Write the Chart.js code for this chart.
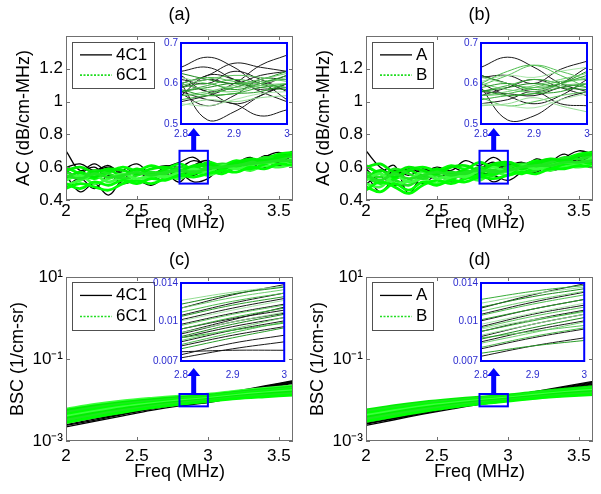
<!DOCTYPE html>
<html>
<head>
<meta charset="utf-8">
<script src="https://cdn.jsdelivr.net/npm/chart.js@4.4.1/dist/chart.umd.min.js"></script>
<style>
  html, body { margin: 0; padding: 0; background: #fff; }
  #fig { position: relative; width: 601px; height: 494px; overflow: hidden; background: #fff; }
  #fig canvas { position: absolute; }
</style>
</head>
<body>
<div id="fig"></div>
<script>
// --- eixos / rótulos ---
const panelTitles = ["(a)", "(b)", "(c)", "(d)"];
const legendLabelsAC = ["4C1", "6C1"];
const legendLabelsBD = ["A", "B"];
const freqTicks = [2, 2.5, 3, 3.5];
const acTicks = [0.4, 0.6, 0.8, 1, 1.2];
const bscTicks = [0.001, 0.1, 10];
const insetFreqTicks = [2.8, 2.9, 3];
const insetAcTicks = [0.5, 0.6, 0.7];
const insetBscTicks = [0.007, 0.01, 0.014];
const zoomFreq = [2.8, 3.0];
const zoomAc = [0.5, 0.7];
const zoomBsc = [0.007, 0.014];

// --- AC (painéis a, b) ---
const acFreq = [2.0, 2.1, 2.2, 2.3, 2.4, 2.5, 2.6, 2.7, 2.8, 2.9, 3.0, 3.1, 3.2, 3.3, 3.4, 3.5, 3.6];

const acBlackA = [
  [0.70, 0.58, 0.62, 0.57, 0.60, 0.56, 0.59, 0.61, 0.60, 0.64, 0.61, 0.60, 0.64, 0.62, 0.67, 0.66, 0.70],
  [0.55, 0.45, 0.50, 0.43, 0.52, 0.50, 0.54, 0.52, 0.58, 0.55, 0.60, 0.57, 0.62, 0.60, 0.64, 0.63, 0.67],
  [0.60, 0.62, 0.58, 0.61, 0.55, 0.57, 0.53, 0.56, 0.51, 0.60, 0.58, 0.62, 0.60, 0.65, 0.63, 0.67, 0.69],
  [0.52, 0.56, 0.60, 0.53, 0.58, 0.62, 0.56, 0.60, 0.63, 0.66, 0.59, 0.56, 0.62, 0.66, 0.60, 0.64, 0.68],
  [0.48, 0.53, 0.47, 0.55, 0.50, 0.52, 0.49, 0.54, 0.56, 0.51, 0.53, 0.60, 0.57, 0.62, 0.64, 0.61, 0.65],
  [0.58, 0.54, 0.57, 0.60, 0.56, 0.51, 0.55, 0.58, 0.54, 0.61, 0.64, 0.58, 0.63, 0.59, 0.66, 0.69, 0.66],
];
const acGreenA = [
  [0.50, 0.47, 0.51, 0.49, 0.52, 0.50, 0.53, 0.52, 0.55, 0.54, 0.56, 0.58, 0.57, 0.60, 0.59, 0.62, 0.61],
  [0.55, 0.53, 0.56, 0.54, 0.55, 0.57, 0.55, 0.57, 0.58, 0.57, 0.59, 0.60, 0.61, 0.62, 0.63, 0.64, 0.64],
  [0.58, 0.60, 0.57, 0.59, 0.58, 0.56, 0.59, 0.60, 0.58, 0.61, 0.62, 0.60, 0.63, 0.65, 0.64, 0.66, 0.68],
  [0.52, 0.55, 0.50, 0.53, 0.56, 0.53, 0.55, 0.54, 0.57, 0.59, 0.57, 0.61, 0.59, 0.61, 0.63, 0.62, 0.65],
  [0.47, 0.50, 0.48, 0.46, 0.50, 0.52, 0.50, 0.53, 0.55, 0.56, 0.58, 0.56, 0.60, 0.59, 0.62, 0.64, 0.63],
  [0.57, 0.54, 0.58, 0.56, 0.53, 0.55, 0.57, 0.56, 0.60, 0.58, 0.60, 0.62, 0.61, 0.63, 0.66, 0.65, 0.67],
  [0.53, 0.57, 0.54, 0.58, 0.55, 0.59, 0.56, 0.58, 0.56, 0.60, 0.61, 0.59, 0.62, 0.64, 0.62, 0.67, 0.66],
  [0.49, 0.52, 0.55, 0.51, 0.54, 0.51, 0.54, 0.55, 0.53, 0.57, 0.55, 0.58, 0.60, 0.58, 0.61, 0.60, 0.62],
  [0.60, 0.56, 0.53, 0.57, 0.60, 0.58, 0.61, 0.59, 0.62, 0.59, 0.63, 0.61, 0.64, 0.62, 0.65, 0.68, 0.69],
];
const acBlackB = [
  [0.70, 0.60, 0.56, 0.59, 0.57, 0.60, 0.58, 0.64, 0.61, 0.66, 0.60, 0.58, 0.65, 0.62, 0.66, 0.70, 0.68],
  [0.56, 0.45, 0.52, 0.46, 0.51, 0.49, 0.55, 0.53, 0.57, 0.51, 0.56, 0.60, 0.58, 0.62, 0.61, 0.65, 0.66],
  [0.60, 0.57, 0.61, 0.44, 0.55, 0.53, 0.57, 0.55, 0.59, 0.63, 0.58, 0.61, 0.64, 0.60, 0.64, 0.63, 0.68],
  [0.52, 0.58, 0.53, 0.57, 0.60, 0.56, 0.52, 0.58, 0.55, 0.58, 0.62, 0.59, 0.57, 0.63, 0.68, 0.62, 0.66],
  [0.50, 0.54, 0.49, 0.52, 0.50, 0.55, 0.51, 0.53, 0.56, 0.55, 0.52, 0.57, 0.60, 0.58, 0.60, 0.64, 0.63],
  [0.59, 0.52, 0.58, 0.55, 0.59, 0.57, 0.60, 0.57, 0.60, 0.60, 0.61, 0.63, 0.60, 0.65, 0.62, 0.66, 0.70],
];
const acGreenB = [
  [0.48, 0.45, 0.50, 0.46, 0.51, 0.49, 0.52, 0.51, 0.54, 0.53, 0.55, 0.57, 0.56, 0.59, 0.59, 0.61, 0.60],
  [0.55, 0.52, 0.56, 0.53, 0.55, 0.57, 0.55, 0.57, 0.58, 0.57, 0.58, 0.60, 0.61, 0.61, 0.63, 0.63, 0.64],
  [0.60, 0.62, 0.57, 0.60, 0.58, 0.56, 0.60, 0.61, 0.58, 0.62, 0.63, 0.60, 0.63, 0.65, 0.64, 0.67, 0.68],
  [0.52, 0.56, 0.50, 0.52, 0.57, 0.53, 0.55, 0.54, 0.58, 0.60, 0.57, 0.61, 0.59, 0.61, 0.63, 0.62, 0.66],
  [0.46, 0.51, 0.48, 0.44, 0.49, 0.52, 0.50, 0.53, 0.55, 0.56, 0.58, 0.56, 0.60, 0.59, 0.62, 0.63, 0.62],
  [0.57, 0.54, 0.59, 0.56, 0.53, 0.56, 0.57, 0.56, 0.60, 0.58, 0.60, 0.62, 0.61, 0.63, 0.66, 0.65, 0.67],
  [0.53, 0.58, 0.54, 0.58, 0.55, 0.59, 0.56, 0.58, 0.56, 0.61, 0.61, 0.59, 0.62, 0.64, 0.62, 0.67, 0.66],
  [0.50, 0.48, 0.55, 0.51, 0.53, 0.50, 0.54, 0.55, 0.52, 0.57, 0.55, 0.58, 0.60, 0.58, 0.61, 0.60, 0.62],
  [0.61, 0.56, 0.53, 0.58, 0.60, 0.58, 0.61, 0.59, 0.63, 0.60, 0.63, 0.61, 0.64, 0.62, 0.65, 0.68, 0.69],
  [0.54, 0.50, 0.52, 0.49, 0.54, 0.55, 0.53, 0.56, 0.54, 0.55, 0.59, 0.57, 0.58, 0.61, 0.60, 0.63, 0.65],
];

// zoom 2.8-3.0 MHz (AC)
const insetAcFreq = [2.8, 2.85, 2.9, 2.95, 3.0];
const insetAcBlackA = [
  [0.64, 0.665, 0.64, 0.60, 0.62],
  [0.60, 0.51, 0.53, 0.57, 0.60],
  [0.58, 0.56, 0.55, 0.52, 0.535],
  [0.60, 0.62, 0.65, 0.64, 0.63],
  [0.62, 0.58, 0.60, 0.645, 0.67],
  [0.555, 0.57, 0.59, 0.60, 0.56],
  [0.57, 0.62, 0.61, 0.58, 0.555],
  [0.59, 0.61, 0.60, 0.62, 0.63],
  [0.60, 0.58, 0.55, 0.57, 0.60],
  [0.61, 0.60, 0.63, 0.61, 0.58],
  [0.63, 0.64, 0.61, 0.585, 0.59],
  [0.575, 0.545, 0.57, 0.61, 0.61],
];
const insetAcGreenA = [
  [0.59, 0.60, 0.585, 0.60, 0.62],
  [0.57, 0.575, 0.59, 0.605, 0.61],
  [0.60, 0.585, 0.58, 0.595, 0.60],
  [0.58, 0.59, 0.60, 0.59, 0.585],
  [0.615, 0.60, 0.59, 0.60, 0.615],
  [0.56, 0.57, 0.575, 0.59, 0.60],
  [0.595, 0.61, 0.62, 0.615, 0.605],
  [0.55, 0.545, 0.56, 0.575, 0.58],
  [0.585, 0.57, 0.575, 0.58, 0.60],
  [0.60, 0.615, 0.605, 0.595, 0.59],
  [0.57, 0.58, 0.595, 0.61, 0.625],
  [0.625, 0.61, 0.60, 0.61, 0.63],
  [0.545, 0.56, 0.555, 0.565, 0.57],
  [0.58, 0.595, 0.61, 0.60, 0.59],
];
const insetAcBlackB = [
  [0.64, 0.665, 0.64, 0.60, 0.58],
  [0.59, 0.51, 0.52, 0.56, 0.58],
  [0.60, 0.57, 0.55, 0.57, 0.61],
  [0.615, 0.62, 0.60, 0.635, 0.655],
  [0.58, 0.575, 0.57, 0.59, 0.60],
  [0.55, 0.56, 0.58, 0.55, 0.545],
  [0.62, 0.60, 0.58, 0.60, 0.64],
  [0.57, 0.59, 0.61, 0.59, 0.57],
];
const insetAcGreenB = [
  [0.59, 0.60, 0.585, 0.60, 0.62],
  [0.57, 0.575, 0.59, 0.605, 0.61],
  [0.60, 0.585, 0.58, 0.595, 0.60],
  [0.58, 0.59, 0.60, 0.59, 0.585],
  [0.615, 0.60, 0.59, 0.60, 0.615],
  [0.56, 0.57, 0.575, 0.59, 0.60],
  [0.595, 0.62, 0.645, 0.63, 0.61],
  [0.55, 0.545, 0.54, 0.56, 0.575],
  [0.585, 0.57, 0.575, 0.58, 0.60],
  [0.60, 0.63, 0.645, 0.62, 0.59],
  [0.57, 0.58, 0.595, 0.61, 0.625],
  [0.62, 0.60, 0.59, 0.60, 0.63],
  [0.545, 0.55, 0.565, 0.545, 0.53],
  [0.58, 0.595, 0.61, 0.60, 0.59],
  [0.565, 0.545, 0.555, 0.57, 0.58],
  [0.605, 0.62, 0.615, 0.63, 0.64],
];

// --- BSC (painéis c, d) ---
const bscFreq = [2.0, 2.2, 2.4, 2.6, 2.8, 3.0, 3.2, 3.4, 3.6];
const bscBlackC = [
  [0.0022, 0.0030, 0.0041, 0.0056, 0.0072, 0.0086, 0.0118, 0.0160, 0.0210],
  [0.0025, 0.0034, 0.0046, 0.0062, 0.0080, 0.0095, 0.0130, 0.0175, 0.0235],
  [0.0028, 0.0037, 0.0050, 0.0068, 0.0088, 0.0105, 0.0142, 0.0190, 0.0255],
  [0.0031, 0.0041, 0.0055, 0.0074, 0.0096, 0.0115, 0.0155, 0.0205, 0.0275],
  [0.0034, 0.0045, 0.0060, 0.0080, 0.0104, 0.0125, 0.0165, 0.0220, 0.0295],
  [0.0024, 0.0032, 0.0044, 0.0060, 0.0077, 0.0090, 0.0124, 0.0168, 0.0222],
  [0.0029, 0.0039, 0.0052, 0.0071, 0.0092, 0.0110, 0.0148, 0.0198, 0.0265],
  [0.0033, 0.0043, 0.0057, 0.0077, 0.0100, 0.0120, 0.0160, 0.0212, 0.0285],
];
const bscGreenC = [
  [0.0028, 0.0038, 0.0050, 0.0064, 0.0078, 0.0092, 0.0108, 0.0120, 0.0132],
  [0.0032, 0.0043, 0.0056, 0.0070, 0.0084, 0.0098, 0.0115, 0.0130, 0.0145],
  [0.0036, 0.0048, 0.0062, 0.0076, 0.0090, 0.0104, 0.0122, 0.0140, 0.0158],
  [0.0040, 0.0053, 0.0068, 0.0082, 0.0096, 0.0110, 0.0130, 0.0150, 0.0170],
  [0.0045, 0.0059, 0.0074, 0.0088, 0.0102, 0.0116, 0.0138, 0.0160, 0.0182],
  [0.0050, 0.0065, 0.0080, 0.0094, 0.0108, 0.0122, 0.0146, 0.0170, 0.0195],
  [0.0056, 0.0072, 0.0088, 0.0102, 0.0116, 0.0130, 0.0156, 0.0182, 0.0210],
  [0.0060, 0.0078, 0.0095, 0.0110, 0.0125, 0.0138, 0.0165, 0.0192, 0.0220],
  [0.0034, 0.0046, 0.0059, 0.0073, 0.0087, 0.0101, 0.0119, 0.0135, 0.0150],
  [0.0042, 0.0056, 0.0071, 0.0085, 0.0099, 0.0113, 0.0134, 0.0155, 0.0176],
];
const bscBlackD = [
  [0.0024, 0.0033, 0.0045, 0.0060, 0.0078, 0.0094, 0.0125, 0.0165, 0.0215],
  [0.0027, 0.0036, 0.0049, 0.0066, 0.0085, 0.0102, 0.0136, 0.0180, 0.0240],
  [0.0030, 0.0040, 0.0054, 0.0072, 0.0093, 0.0112, 0.0150, 0.0198, 0.0262],
  [0.0033, 0.0044, 0.0059, 0.0078, 0.0101, 0.0122, 0.0162, 0.0215, 0.0285],
  [0.0026, 0.0035, 0.0047, 0.0063, 0.0081, 0.0098, 0.0130, 0.0172, 0.0228],
  [0.0029, 0.0038, 0.0051, 0.0069, 0.0089, 0.0107, 0.0143, 0.0190, 0.0250],
  [0.0032, 0.0042, 0.0057, 0.0075, 0.0097, 0.0117, 0.0156, 0.0206, 0.0272],
];
const bscGreenD = [
  [0.0030, 0.0040, 0.0052, 0.0066, 0.0080, 0.0094, 0.0110, 0.0124, 0.0136],
  [0.0034, 0.0045, 0.0058, 0.0072, 0.0086, 0.0100, 0.0118, 0.0134, 0.0150],
  [0.0038, 0.0050, 0.0064, 0.0078, 0.0092, 0.0106, 0.0125, 0.0144, 0.0162],
  [0.0042, 0.0055, 0.0070, 0.0084, 0.0098, 0.0112, 0.0133, 0.0154, 0.0175],
  [0.0047, 0.0061, 0.0076, 0.0090, 0.0104, 0.0118, 0.0141, 0.0164, 0.0187],
  [0.0052, 0.0067, 0.0082, 0.0096, 0.0110, 0.0124, 0.0149, 0.0174, 0.0200],
  [0.0057, 0.0073, 0.0089, 0.0104, 0.0118, 0.0132, 0.0158, 0.0185, 0.0212],
  [0.0036, 0.0047, 0.0061, 0.0075, 0.0089, 0.0103, 0.0121, 0.0139, 0.0156],
  [0.0044, 0.0058, 0.0073, 0.0087, 0.0101, 0.0115, 0.0137, 0.0159, 0.0181],
  [0.0032, 0.0043, 0.0055, 0.0069, 0.0083, 0.0097, 0.0114, 0.0129, 0.0143],
];

// zoom 2.8-3.0 MHz (BSC)
const insetBscFreq = [2.8, 2.9, 3.0];
const insetBscBlackC = [
  [0.0072, 0.0078, 0.0083],
  [0.0074, 0.0082, 0.0088],
  [0.0076, 0.0077, 0.0077],
  [0.0080, 0.0088, 0.0095],
  [0.0083, 0.0092, 0.0100],
  [0.0086, 0.0095, 0.0103],
  [0.0089, 0.0099, 0.0107],
  [0.0093, 0.0102, 0.0110],
  [0.0097, 0.0107, 0.0116],
  [0.0101, 0.0112, 0.0122],
  [0.0105, 0.0117, 0.0128],
  [0.0112, 0.0126, 0.0138],
  [0.0090, 0.0101, 0.0113],
];
const insetBscGreenC = [
  [0.0078, 0.0086, 0.0094],
  [0.0081, 0.0090, 0.0099],
  [0.0084, 0.0093, 0.0103],
  [0.0087, 0.0097, 0.0106],
  [0.0090, 0.0099, 0.0108],
  [0.0093, 0.0103, 0.0112],
  [0.0096, 0.0106, 0.0115],
  [0.0100, 0.0110, 0.0120],
  [0.0104, 0.0115, 0.0124],
  [0.0108, 0.0119, 0.0128],
  [0.0112, 0.0123, 0.0132],
  [0.0116, 0.0127, 0.0135],
  [0.0120, 0.0129, 0.0136],
  [0.0086, 0.0092, 0.0098],
];
const insetBscBlackD = [
  [0.0073, 0.0080, 0.0086],
  [0.0078, 0.0086, 0.0093],
  [0.0083, 0.0092, 0.0100],
  [0.0087, 0.0097, 0.0106],
  [0.0091, 0.0101, 0.0110],
  [0.0095, 0.0106, 0.0115],
  [0.0100, 0.0111, 0.0121],
  [0.0106, 0.0118, 0.0129],
  [0.0112, 0.0126, 0.0139],
];
const insetBscGreenD = [
  [0.0075, 0.0080, 0.0084],
  [0.0079, 0.0087, 0.0094],
  [0.0082, 0.0090, 0.0099],
  [0.0085, 0.0094, 0.0103],
  [0.0088, 0.0097, 0.0106],
  [0.0091, 0.0100, 0.0109],
  [0.0094, 0.0104, 0.0113],
  [0.0097, 0.0107, 0.0117],
  [0.0101, 0.0111, 0.0121],
  [0.0105, 0.0116, 0.0126],
  [0.0109, 0.0120, 0.0130],
  [0.0113, 0.0124, 0.0133],
  [0.0117, 0.0127, 0.0135],
  [0.0121, 0.0130, 0.0137],
  [0.0086, 0.0091, 0.0096],
  [0.0093, 0.0101, 0.0108],
];

// --- estilos ---
const FONT = "'Liberation Sans', Arial, Helvetica, sans-serif";
const BLUE = "#0000ff";
const INSET_LABEL = "#2b2bcf";
const mainGreens = ["#00ff00", "#1ee81e", "#00f000", "#3cff3c"];
const insetGreens = ["#2a9d2a", "#4cbc4c", "#6fcf6f", "#1e8a1e", "#93dd93", "#39ad39", "#5cc45c", "#a8e6a8"];

function supExp(v) {
  const sup = { "-": "\u207B", "0": "\u2070", "1": "\u00B9", "2": "\u00B2", "3": "\u00B3" };
  const e = String(Math.round(Math.log10(v)));
  return "10" + e.split("").map((c) => sup[c] || c).join("");
}

function makeCanvas(left, top, w, h) {
  const c = document.createElement("canvas");
  c.width = w;
  c.height = h;
  c.style.left = left + "px";
  c.style.top = top + "px";
  c.style.width = w + "px";
  c.style.height = h + "px";
  document.getElementById("fig").appendChild(c);
  return c;
}

function curvas(freq, curves, colors, width, tension) {
  return curves.map((vals, i) => ({
    data: vals.map((v, j) => ({ x: freq[j], y: v })),
    borderColor: colors[i % colors.length],
    borderWidth: width,
    pointRadius: 0,
    tension: tension,
    fill: false,
  }));
}

function fixedTicks(list) {
  return (s) => {
    s.ticks = list.map((v) => ({ value: v }));
  };
}

// moldura, ticks para dentro, caixa de zoom, seta e legenda
const panelDecor = {
  id: "panelDecor",
  afterDatasetsDraw(chart, args, o) {
    const ctx = chart.ctx;
    const a = chart.chartArea;
    const xs = chart.scales.x;
    const ys = chart.scales.y;
    ctx.save();

    ctx.strokeStyle = "#707070";
    ctx.lineWidth = 1;
    ctx.strokeRect(a.left + 0.5, a.top + 0.5, a.right - a.left - 1, a.bottom - a.top - 1);
    ctx.beginPath();
    xs.ticks.forEach((t) => {
      const px = Math.round(xs.getPixelForValue(t.value)) + 0.5;
      ctx.moveTo(px, a.bottom);
      ctx.lineTo(px, a.bottom - 4);
      ctx.moveTo(px, a.top);
      ctx.lineTo(px, a.top + 4);
    });
    ys.ticks.forEach((t) => {
      const py = Math.round(ys.getPixelForValue(t.value)) + 0.5;
      ctx.moveTo(a.left, py);
      ctx.lineTo(a.left + 4, py);
      ctx.moveTo(a.right, py);
      ctx.lineTo(a.right - 4, py);
    });
    ctx.stroke();

    // caixa de zoom
    const x0 = xs.getPixelForValue(o.zoomX[0]);
    const x1 = xs.getPixelForValue(o.zoomX[1]);
    const y0 = ys.getPixelForValue(o.zoomY[0]);
    const y1 = ys.getPixelForValue(o.zoomY[1]);
    ctx.strokeStyle = BLUE;
    ctx.lineWidth = 2;
    ctx.strokeRect(x0, y1, x1 - x0, y0 - y1);

    // seta até ao inset
    const ax = (x0 + x1) / 2;
    const tip = o.arrowTip;
    ctx.fillStyle = BLUE;
    ctx.fillRect(ax - 2.5, tip + 7, 5, y1 - (tip + 7));
    ctx.beginPath();
    ctx.moveTo(ax - 6.5, tip + 8);
    ctx.lineTo(ax + 6.5, tip + 8);
    ctx.lineTo(ax, tip);
    ctx.closePath();
    ctx.fill();

    // legenda
    const L = o.legend;
    ctx.fillStyle = "#fff";
    ctx.fillRect(L.x, L.y, L.w, L.h);
    ctx.strokeStyle = "#505050";
    ctx.lineWidth = 1;
    ctx.strokeRect(L.x + 0.5, L.y + 0.5, L.w, L.h);
    const rows = [L.y + L.h * 0.28, L.y + L.h * 0.72];
    ctx.lineWidth = 1.3;
    ctx.strokeStyle = "#000";
    ctx.beginPath();
    ctx.moveTo(L.x + 8, rows[0]);
    ctx.lineTo(L.x + 40, rows[0]);
    ctx.stroke();
    ctx.strokeStyle = "#22dd22";
    ctx.lineWidth = 1.6;
    ctx.setLineDash([2, 1.5]);
    ctx.beginPath();
    ctx.moveTo(L.x + 8, rows[1]);
    ctx.lineTo(L.x + 40, rows[1]);
    ctx.stroke();
    ctx.setLineDash([]);
    ctx.fillStyle = "#000";
    ctx.font = "17px " + FONT;
    ctx.textBaseline = "middle";
    ctx.textAlign = "left";
    ctx.fillText(L.labels[0], L.x + 44, rows[0]);
    ctx.fillText(L.labels[1], L.x + 44, rows[1]);
    ctx.restore();
  },
};

const insetDecor = {
  id: "insetDecor",
  beforeDatasetsDraw(chart) {
    const a = chart.chartArea;
    chart.ctx.save();
    chart.ctx.fillStyle = "#fff";
    chart.ctx.fillRect(a.left, a.top, a.right - a.left, a.bottom - a.top);
    chart.ctx.restore();
  },
  afterDatasetsDraw(chart) {
    const a = chart.chartArea;
    const ctx = chart.ctx;
    ctx.save();
    ctx.strokeStyle = BLUE;
    ctx.lineWidth = 2;
    ctx.strokeRect(a.left, a.top, a.right - a.left, a.bottom - a.top);
    ctx.restore();
  },
};

const noGrid = { display: false, drawTicks: false };

function painel(p) {
  const canvas = makeCanvas(p.left, p.top, 300, 247);
  const datasets = curvas(p.freq, p.green, mainGreens, 2.8, p.tension).concat(
    curvas(p.freq, p.black, ["#000"], 1.3, p.tension)
  );
  new Chart(canvas, {
    type: "line",
    data: { datasets },
    plugins: [panelDecor],
    options: {
      responsive: false,
      animation: false,
      events: [],
      devicePixelRatio: 1,
      layout: { padding: { left: 0, right: 7, top: 0, bottom: 0 } },
      plugins: {
        legend: { display: false },
        tooltip: { enabled: false },
        title: {
          display: true,
          text: p.title,
          fullSize: false,
          color: "#000",
          font: { family: FONT, size: 18, weight: "normal" },
          padding: p.titlePad,
        },
        panelDecor: {
          zoomX: zoomFreq,
          zoomY: p.zoomY,
          arrowTip: p.arrowTip,
          legend: p.legend,
        },
      },
      scales: {
        x: {
          type: "linear",
          min: 2,
          max: 3.6,
          afterBuildTicks: fixedTicks(freqTicks),
          afterFit: (s) => {
            s.height = p.xh;
          },
          grid: noGrid,
          border: { display: false },
          ticks: {
            color: "#000",
            font: { family: FONT, size: 17 },
            padding: p.xpad,
            maxRotation: 0,
            autoSkip: false,
            callback: (v) => String(v),
          },
          title: {
            display: true,
            text: "Freq (MHz)",
            color: "#000",
            font: { family: FONT, size: 18 },
            padding: { top: 0, bottom: p.xTitlePad },
          },
        },
        y: {
          type: p.yType,
          min: p.yMin,
          max: p.yMax,
          afterBuildTicks: fixedTicks(p.yTicks),
          afterFit: (s) => {
            s.width = 66;
          },
          grid: noGrid,
          border: { display: false },
          ticks: {
            color: "#000",
            font: { family: FONT, size: 17 },
            padding: 3,
            autoSkip: false,
            callback: p.yLabel,
          },
          title: {
            display: true,
            text: p.yTitle,
            color: "#000",
            font: { family: FONT, size: 18 },
            padding: { top: p.yTitlePad, bottom: 0 },
          },
        },
      },
    },
  });
}

function inset(p) {
  const canvas = makeCanvas(p.left, p.top, 155, 108);
  const datasets = curvas(p.freqs, p.green, insetGreens, 1, 0.4).concat(
    curvas(p.freqs, p.black, ["#1a1a1a"], 1, 0.4)
  );
  new Chart(canvas, {
    type: "line",
    data: { datasets },
    plugins: [insetDecor],
    options: {
      responsive: false,
      animation: false,
      events: [],
      devicePixelRatio: 1,
      layout: { padding: { left: 0, right: 8, top: 9, bottom: 0 } },
      plugins: { legend: { display: false }, tooltip: { enabled: false } },
      scales: {
        x: {
          type: "linear",
          min: 2.8,
          max: 3.0,
          afterBuildTicks: fixedTicks(insetFreqTicks),
          afterFit: (s) => {
            s.height = p.xh;
          },
          grid: noGrid,
          border: { display: false },
          ticks: {
            color: INSET_LABEL,
            font: { family: FONT, size: 10 },
            padding: p.xpad,
            maxRotation: 0,
            autoSkip: false,
            callback: (v) => String(v),
          },
        },
        y: {
          type: p.yType,
          min: p.yMin,
          max: p.yMax,
          afterBuildTicks: fixedTicks(p.yTicks),
          afterFit: (s) => {
            s.width = 41;
          },
          grid: noGrid,
          border: { display: false },
          ticks: {
            color: INSET_LABEL,
            font: { family: FONT, size: 10 },
            padding: 3,
            autoSkip: false,
            callback: (v) => String(v),
          },
        },
      },
    },
  });
}

const acLabel = (v) => String(v);
const bscLabel = (v) => supExp(v);

// painéis principais
painel({
  left: 0, top: 0, title: panelTitles[0], titlePad: { top: 4, bottom: 10.4 },
  freq: acFreq, black: acBlackA, green: acGreenA, tension: 0.4,
  yType: "linear", yMin: 0.4, yMax: 1.4, yTicks: acTicks, yLabel: acLabel,
  yTitle: "AC (dB/cm-MHz)", yTitlePad: 13, xh: 47, xpad: 1, xTitlePad: 13,
  zoomY: zoomAc, arrowTip: 128,
  legend: { x: 72, y: 42, w: 82, h: 46, labels: legendLabelsAC },
});
painel({
  left: 300, top: 0, title: panelTitles[1], titlePad: { top: 4, bottom: 10.4 },
  freq: acFreq, black: acBlackB, green: acGreenB, tension: 0.4,
  yType: "linear", yMin: 0.4, yMax: 1.4, yTicks: acTicks, yLabel: acLabel,
  yTitle: "AC (dB/cm-MHz)", yTitlePad: 13, xh: 47, xpad: 1, xTitlePad: 13,
  zoomY: zoomAc, arrowTip: 128,
  legend: { x: 72, y: 42, w: 61, h: 46, labels: legendLabelsBD },
});
painel({
  left: 0, top: 247, title: panelTitles[2], titlePad: { top: 2, bottom: 6.4 },
  freq: bscFreq, black: bscBlackC, green: bscGreenC, tension: 0.3,
  yType: "logarithmic", yMin: 0.001, yMax: 10, yTicks: bscTicks, yLabel: bscLabel,
  yTitle: "BSC (1/cm-sr)", yTitlePad: 7, xh: 53, xpad: 5, xTitlePad: 11,
  zoomY: zoomBsc, arrowTip: 121,
  legend: { x: 72, y: 35, w: 82, h: 48, labels: legendLabelsAC },
});
painel({
  left: 300, top: 247, title: panelTitles[3], titlePad: { top: 2, bottom: 6.4 },
  freq: bscFreq, black: bscBlackD, green: bscGreenD, tension: 0.3,
  yType: "logarithmic", yMin: 0.001, yMax: 10, yTicks: bscTicks, yLabel: bscLabel,
  yTitle: "BSC (1/cm-sr)", yTitlePad: 7, xh: 53, xpad: 5, xTitlePad: 11,
  zoomY: zoomBsc, arrowTip: 121,
  legend: { x: 72, y: 35, w: 61, h: 48, labels: legendLabelsBD },
});

// insets (zoom 2.8-3.0 MHz)
inset({
  left: 140, top: 34, xh: 18, xpad: 4, freqs: insetAcFreq,
  black: insetAcBlackA, green: insetAcGreenA,
  yType: "linear", yMin: 0.5, yMax: 0.7, yTicks: insetAcTicks,
});
inset({
  left: 440, top: 34, xh: 18, xpad: 4, freqs: insetAcFreq,
  black: insetAcBlackB, green: insetAcGreenB,
  yType: "linear", yMin: 0.5, yMax: 0.7, yTicks: insetAcTicks,
});
inset({
  left: 140, top: 274, xh: 21, xpad: 8, freqs: insetBscFreq,
  black: insetBscBlackC, green: insetBscGreenC,
  yType: "logarithmic", yMin: 0.007, yMax: 0.014, yTicks: insetBscTicks,
});
inset({
  left: 440, top: 274, xh: 21, xpad: 8, freqs: insetBscFreq,
  black: insetBscBlackD, green: insetBscGreenD,
  yType: "logarithmic", yMin: 0.007, yMax: 0.014, yTicks: insetBscTicks,
});
</script>
</body>
</html>
